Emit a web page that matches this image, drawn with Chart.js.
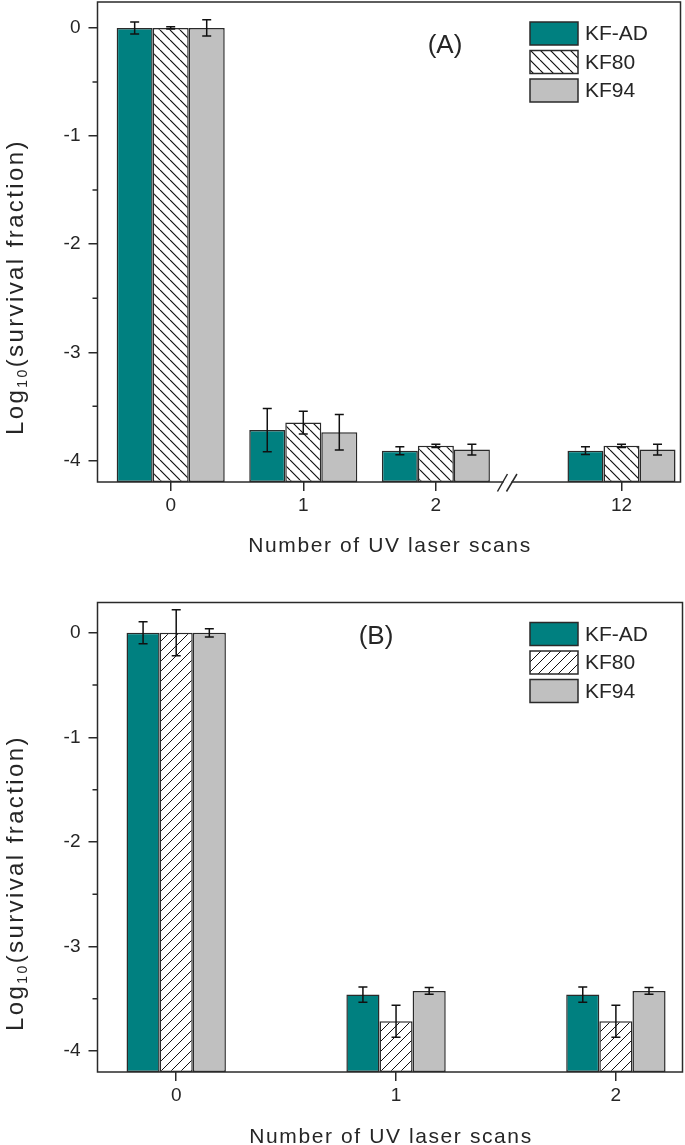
<!DOCTYPE html>
<html><head><meta charset="utf-8">
<script src="https://cdn.jsdelivr.net/npm/chart.js@4.4.1/dist/chart.umd.min.js"></script>
<style>
html,body{margin:0;padding:0;background:#fff;}
#wrap{position:relative;width:685px;height:1145px;overflow:hidden;}
canvas{position:absolute;left:0;}
</style></head><body>
<div id="wrap">
<canvas id="cA" width="685" height="572" style="top:0"></canvas>
<canvas id="cB" width="685" height="573" style="top:572px"></canvas>
</div>
<script>
// ---------------- DATA ----------------
const seriesNames = ['KF-AD', 'KF80', 'KF94'];
const yTickValues = [0, -1, -2, -3, -4];

// Panel (A)
const scansA = ['0', '1', '2', '12'];
const kfadA = [0, -3.72, -3.91, -3.91];
const kfadErrA = [0.055, 0.20, 0.037, 0.036];
const kf80A = [0, -3.65, -3.865, -3.865];
const kf80ErrA = [0.01, 0.105, 0.015, 0.015];
const kf94A = [0, -3.74, -3.90, -3.90];
const kf94ErrA = [0.075, 0.165, 0.05, 0.05];

// Panel (B)
const scansB = ['0', '1', '2'];
const kfadB = [0, -3.46, -3.46];
const kfadErrB = [0.105, 0.073, 0.073];
const kf80B = [0, -3.715, -3.715];
const kf80ErrB = [0.22, 0.153, 0.153];
const kf94B = [0, -3.425, -3.425];
const kf94ErrB = [0.04, 0.032, 0.032];

// ---------------- STYLE / LAYOUT ----------------
const INK = '#262626';
const LINE = '#2a2a2a';
const FONT = '"Liberation Sans", Arial, sans-serif';
const TEAL = '#008080';
const GRAY = '#c0c0c0';

function hatch(dir, s, lw, color) {
  const c = document.createElement('canvas');
  c.width = s; c.height = s;
  const g = c.getContext('2d');
  g.fillStyle = '#fff'; g.fillRect(0, 0, s, s);
  g.strokeStyle = color; g.lineWidth = lw;
  g.beginPath();
  for (let k = -1; k <= 1; k++) {
    if (dir === 'back') { g.moveTo(k * s, 0); g.lineTo(k * s + s, s); }
    else { g.moveTo(k * s, s); g.lineTo(k * s + s, 0); }
  }
  g.stroke();
  return c;
}

const panels = [
  {
    id: 'cA', letter: '(A)', labels: scansA,
    slots: [0, 1, 2, 3.40], xMin: -0.552, xMax: 3.845, breakAt: 2.54,
    yMin: -4.2, yMax: 0.24, catPct: 0.815,
    pad: { left: 0, right: 4.5, top: 2, bottom: 0 }, xH: 90,
    vals: [kfadA, kf80A, kf94A], errs: [kfadErrA, kf80ErrA, kf94ErrA],
    hatchDir: 'back', hatchLW: 1.2,
    letterPos: [445, 46], xTitleY: 552, yTitleC: 287
  },
  {
    id: 'cB', letter: '(B)', labels: scansB,
    slots: [0, 1, 2], xMin: -0.358, xMax: 2.303, breakAt: null,
    yMin: -4.2, yMax: 0.29, catPct: 0.452,
    pad: { left: 0, right: 2.5, top: 30.5, bottom: 0 }, xH: 73,
    vals: [kfadB, kf80B, kf94B], errs: [kfadErrB, kf80ErrB, kf94ErrB],
    hatchDir: 'fwd', hatchLW: 1.0,
    letterPos: [376, 65], xTitleY: 571, yTitleC: 311
  }
];

const decor = {
  id: 'decor',
  afterDatasetsDraw(chart) {
    const ctx = chart.ctx, ys = chart.scales.y;
    ctx.save();
    ctx.strokeStyle = '#111'; ctx.lineWidth = 1.5;
    chart.data.datasets.forEach((ds, di) => {
      const meta = chart.getDatasetMeta(di);
      meta.data.forEach((el, i) => {
        const v = ds.data[i].y, e = ds.errors[i];
        const yt = ys.getPixelForValue(v + e), yb = ys.getPixelForValue(v - e);
        const x = el.x, hw = 4.5;
        ctx.beginPath();
        ctx.moveTo(x, yt); ctx.lineTo(x, yb);
        ctx.moveTo(x - hw, yt); ctx.lineTo(x + hw, yt);
        ctx.moveTo(x - hw, yb); ctx.lineTo(x + hw, yb);
        ctx.stroke();
      });
    });
    ctx.restore();
  },
  afterDraw(chart) {
    const P = chart.options.plugins.decor.panel;
    const ctx = chart.ctx, a = chart.chartArea, ys = chart.scales.y, xs = chart.scales.x;
    ctx.save();
    // frame
    ctx.strokeStyle = LINE; ctx.lineWidth = 1.5;
    ctx.strokeRect(a.left, a.top, a.right - a.left, a.bottom - a.top);
    // minor y ticks
    ctx.beginPath();
    for (let v = -0.5; v > P.yMin; v -= 1) {
      const y = ys.getPixelForValue(v);
      ctx.moveTo(a.left - 5, y); ctx.lineTo(a.left, y);
    }
    ctx.stroke();
    // axis break
    if (P.breakAt !== null) {
      const bx = xs.getPixelForValue(P.breakAt), by = a.bottom;
      ctx.fillStyle = '#fff';
      ctx.fillRect(bx - 4, by - 2, 8, 4);
      ctx.beginPath();
      ctx.moveTo(bx - 10, by + 9.5); ctx.lineTo(bx, by - 8);
      ctx.moveTo(bx - 1, by + 9.5); ctx.lineTo(bx + 9.5, by - 8);
      ctx.stroke();
    }
    // legend
    const lx = 530, bw = 48, bh = 23, step = 28.5;
    chart.data.datasets.forEach((ds, i) => {
      const ty = a.top + 20 + i * step;
      ctx.fillStyle = ds.backgroundColor;
      ctx.fillRect(lx, ty, bw, bh);
      ctx.strokeStyle = LINE; ctx.lineWidth = 1.5;
      ctx.strokeRect(lx, ty, bw, bh);
      ctx.fillStyle = INK; ctx.font = '21px ' + FONT;
      ctx.textAlign = 'left'; ctx.textBaseline = 'middle';
      ctx.fillText(ds.label, 585, ty + bh / 2 + 1);
    });
    // panel letter
    ctx.fillStyle = INK; ctx.font = '26px ' + FONT;
    ctx.textAlign = 'center'; ctx.textBaseline = 'middle';
    ctx.fillText(P.letter, P.letterPos[0], P.letterPos[1]);
    // x title
    ctx.font = '21px ' + FONT; ctx.letterSpacing = '1.6px';
    ctx.textAlign = 'center'; ctx.textBaseline = 'alphabetic';
    ctx.fillText('Number of UV laser scans', (a.left + a.right) / 2 + 1, P.xTitleY);
    // y title (rotated, with subscript)
    const f = 24, fs = 14;
    ctx.letterSpacing = '2.4px';
    ctx.font = f + 'px ' + FONT; const w1 = ctx.measureText('Log').width;
    const w3 = ctx.measureText('(survival fraction)').width;
    ctx.font = fs + 'px ' + FONT; const w2 = ctx.measureText('10').width;
    const tot = w1 + w2 + w3;
    ctx.translate(14, P.yTitleC);
    ctx.rotate(-Math.PI / 2);
    ctx.textAlign = 'left'; ctx.textBaseline = 'alphabetic';
    let x0 = -tot / 2;
    const base = f * 0.36;
    ctx.font = f + 'px ' + FONT; ctx.fillText('Log', x0, base); x0 += w1;
    ctx.font = fs + 'px ' + FONT; ctx.fillText('10', x0, base + 4); x0 += w2;
    ctx.font = f + 'px ' + FONT; ctx.fillText('(survival fraction)', x0, base);
    ctx.restore();
  }
};

panels.forEach(P => {
  const hatchPat = document.getElementById(P.id).getContext('2d')
    .createPattern(hatch(P.hatchDir, 10, P.hatchLW, '#111'), 'repeat');
  const fills = [TEAL, hatchPat, GRAY];
  const datasets = seriesNames.map((name, k) => ({
    label: name,
    data: P.vals[k].map((v, i) => ({ x: P.slots[i], y: v })),
    errors: P.errs[k],
    backgroundColor: fills[k],
    borderColor: LINE,
    borderWidth: 1.5,
    borderSkipped: false,
    base: P.yMin,
    categoryPercentage: P.catPct,
    barPercentage: 1.0
  }));
  new Chart(document.getElementById(P.id), {
    type: 'bar',
    data: { datasets },
    options: {
      responsive: false,
      devicePixelRatio: 1,
      animation: false,
      layout: { padding: P.pad },
      plugins: { legend: { display: false }, tooltip: { enabled: false }, decor: { panel: P } },
      scales: {
        x: {
          type: 'linear', min: P.xMin, max: P.xMax, offset: false,
          afterBuildTicks: s => { s.ticks = P.slots.map(v => ({ value: v })); },
          afterFit: s => { s.height = P.xH; s.paddingLeft = 0; s.paddingRight = 0; },
          ticks: {
            padding: 3, color: INK, font: { size: 19, family: FONT },
            maxRotation: 0, autoSkip: false,
            callback: v => P.labels[P.slots.indexOf(v)]
          },
          grid: { display: true, drawOnChartArea: false, drawTicks: true, tickLength: 9, color: LINE, lineWidth: 1.5, offset: false },
          border: { display: false }
        },
        y: {
          type: 'linear', min: P.yMin, max: P.yMax,
          afterBuildTicks: s => { s.ticks = yTickValues.map(v => ({ value: v })); },
          afterFit: s => { s.width = 97.5; s.paddingTop = 0; s.paddingBottom = 0; },
          ticks: { padding: 8, color: INK, font: { size: 19, family: FONT }, callback: v => String(v) },
          grid: { display: true, drawOnChartArea: false, drawTicks: true, tickLength: 9, color: LINE, lineWidth: 1.5 },
          border: { display: false }
        }
      }
    },
    plugins: [decor]
  });
});
</script>
</body></html>
